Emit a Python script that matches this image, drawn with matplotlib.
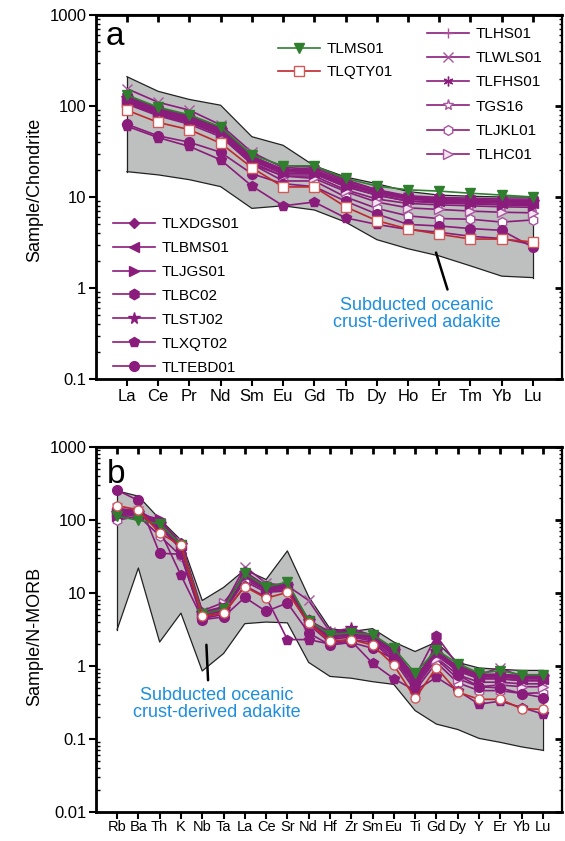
import matplotlib
matplotlib.use('Agg')
import matplotlib.pyplot as plt
from matplotlib.ticker import LogLocator, FuncFormatter, NullFormatter

plt.rcParams['font.family'] = ['Liberation Sans', 'DejaVu Sans']

# ---------------- data ----------------
ree_elements = ['La', 'Ce', 'Pr', 'Nd', 'Sm', 'Eu', 'Gd', 'Tb', 'Dy', 'Ho', 'Er', 'Tm', 'Yb', 'Lu']
trace_elements = ['Rb', 'Ba', 'Th', 'K', 'Nb', 'Ta', 'La', 'Ce', 'Sr', 'Nd', 'Hf', 'Zr',
                  'Sm', 'Eu', 'Ti', 'Gd', 'Dy', 'Y', 'Er', 'Yb', 'Lu']

sample_names = ['TLMS01', 'TLQTY01', 'TLHS01', 'TLWLS01', 'TLFHS01', 'TGS16', 'TLJKL01', 'TLHC01',
                'TLXDGS01', 'TLBMS01', 'TLJGS01', 'TLBC02', 'TLSTJ02', 'TLXQT02', 'TLTEBD01']

# adakite field (chondrite normalised)
field_a_upper = [210, 145, 118, 102, 46, 37, 22, 16.6, 14, 11.5, 10.5, 10.2, 10.0, 10.0]
field_a_lower = [19, 17.5, 15.5, 13, 7.5, 8.0, 7.2, 5.3, 3.4, 2.7, 2.25, 1.75, 1.35, 1.3]
# adakite field (N-MORB normalised)
field_b_upper = [251, 212, 103, 53, 7.9, 11.9, 20.8, 15.3, 37.7, 8.9, 3.25, 2.97, 3.25, 2.13, 1.58, 2.13,
                 1.12, 0.94, 0.9, 0.87, 0.87]
field_b_lower = [3.14, 22, 2.13, 5.3, 0.855, 1.48, 3.8, 4.0, 3.9, 1.12, 0.72, 0.68, 0.61, 0.56, 0.245, 0.16,
                 0.135, 0.102, 0.09, 0.078, 0.07]

# REE, chondrite normalised
ree_TLMS01 = [132, 97, 80, 59, 29, 22, 22, 16, 13.2, 12, 11.6, 11, 10.5, 10.0]
ree_TLQTY01 = [90, 66, 55, 39, 21, 12.9, 12.9, 7.8, 5.5, 4.45, 3.9, 3.45, 3.45, 3.2]
ree_TLHS01 = [120, 88, 72, 54, 27, 19, 19, 14, 11, 9.5, 9.2, 9.0, 8.8, 8.7]
ree_TLWLS01 = [155, 110, 90, 62, 31, 21, 22, 15.5, 12, 10, 9.5, 9.3, 9.0, 8.8]
ree_TLFHS01 = [115, 85, 70, 52, 26, 18, 18, 13, 10.5, 9.0, 8.8, 8.5, 8.3, 8.2]
ree_TGS16 = [108, 80, 66, 49, 24, 17, 17, 12, 9.5, 8.5, 8.2, 8.0, 7.8, 7.7]
ree_TLJKL01 = [105, 78, 63, 46, 23, 15, 15, 10, 7.5, 6.2, 5.8, 5.7, 5.3, 5.6]
ree_TLHC01 = [110, 80, 66, 48, 23, 17, 16, 11.5, 8.8, 7.6, 7.3, 7.0, 6.8, 6.7]
ree_TLXDGS01 = [125, 92, 76, 56, 28, 20, 20, 14.5, 11.5, 10, 9.6, 9.4, 9.2, 9.2]
ree_TLBMS01 = [118, 86, 71, 52, 26, 19, 18.5, 13.5, 11, 9.5, 9.0, 8.8, 8.6, 8.5]
ree_TLJGS01 = [112, 83, 68, 50, 25, 18, 18, 13, 10.5, 9.0, 8.6, 8.4, 8.2, 8.0]
ree_TLBC02 = [128, 95, 78, 57, 28, 20, 21, 15, 12, 10.3, 9.9, 9.7, 9.5, 9.5]
ree_TLSTJ02 = [122, 90, 74, 55, 27, 19.5, 19.5, 14, 11.5, 9.8, 9.3, 9.1, 8.9, 8.9]
ree_TLXQT02 = [60, 45, 36, 25.6, 13.2, 8.0, 8.8, 5.9, 5.0, 4.4, 4.1, 3.7, 3.5, 3.0]
ree_TLTEBD01 = [63, 47, 40, 31, 18, 14, 13, 9.0, 6.5, 5.0, 4.8, 4.5, 4.3, 2.8]

# trace elements, N-MORB normalised
tr_TLMS01 = [113, 99, 89, 46, 5.1, 6.1, 18.5, 12.1, 14.1, 4.2, 2.7, 2.85, 2.7, 1.75, 0.8, 1.66, 1.08, 0.8, 0.86, 0.76, 0.76]
tr_TLQTY01 = [157, 138, 66, 45, 4.8, 5.3, 12.2, 8.5, 10.2, 3.9, 2.2, 2.3, 1.93, 1.03, 0.36, 0.95, 0.44, 0.35, 0.35, 0.26, 0.255]
tr_TLHS01 = [124, 129, 86, 44, 5.3, 6.3, 17.5, 11.6, 12.1, 4.1, 2.6, 2.75, 2.5, 1.58, 0.67, 1.49, 0.9, 0.71, 0.71, 0.67, 0.67]
tr_TLWLS01 = [144, 134, 91, 45, 5.5, 6.5, 23, 13.6, 12.6, 7.9, 2.95, 3.0, 2.7, 1.66, 0.63, 1.58, 0.95, 0.76, 0.95, 0.71, 0.71]
tr_TLFHS01 = [118, 124, 83, 42, 5.0, 6.0, 16.5, 11.1, 11.6, 4.0, 2.5, 2.7, 2.4, 1.49, 0.59, 1.4, 0.86, 0.67, 0.67, 0.63, 0.63]
tr_TGS16 = [108, 118, 79, 40, 4.9, 5.7, 15.5, 10.7, 11.1, 3.9, 2.4, 2.6, 2.3, 1.4, 0.55, 1.3, 0.76, 0.6, 0.6, 0.57, 0.57]
tr_TLJKL01 = [99, 113, 61, 32, 4.55, 5.5, 14.5, 10.2, 10.7, 3.7, 2.1, 2.3, 2.1, 1.2, 0.46, 1.12, 0.59, 0.46, 0.46, 0.42, 0.43]
tr_TLHC01 = [129, 124, 96, 50, 5.7, 7.4, 16.5, 11.6, 11.6, 3.8, 2.3, 2.5, 2.2, 1.3, 0.5, 1.25, 0.67, 0.52, 0.55, 0.52, 0.52]
tr_TLXDGS01 = [139, 132, 93, 48, 5.4, 6.3, 19.5, 12.6, 12.6, 4.2, 2.75, 2.95, 2.6, 1.66, 0.71, 1.62, 0.99, 0.76, 0.76, 0.71, 0.71]
tr_TLBMS01 = [122, 122, 87, 45, 5.2, 6.0, 18, 11.8, 12.1, 4.1, 2.7, 2.75, 2.5, 1.58, 0.67, 1.53, 0.9, 0.71, 0.71, 0.67, 0.67]
tr_TLJGS01 = [115, 120, 103, 44, 5.1, 6.4, 17, 11.4, 11.6, 4.0, 2.6, 2.7, 2.4, 1.49, 0.6, 1.44, 0.86, 0.67, 0.67, 0.63, 0.63]
tr_TLBC02 = [132, 128, 91, 47, 5.4, 6.2, 19, 12.4, 12.6, 4.3, 2.75, 2.95, 2.6, 1.66, 0.71, 2.6, 1.03, 0.77, 0.77, 0.74, 0.74]
tr_TLSTJ02 = [126, 126, 88, 46, 5.3, 6.1, 18.5, 12.1, 12.4, 4.2, 2.95, 3.3, 2.6, 1.62, 0.69, 1.58, 0.95, 0.74, 0.74, 0.7, 0.7]
tr_TLXQT02 = [134, 124, 73, 17.5, 4.45, 5.1, 12.6, 8.8, 2.3, 2.3, 2.0, 2.2, 1.09, 0.67, 0.46, 0.7, 0.46, 0.3, 0.33, 0.27, 0.22]
tr_TLTEBD01 = [257, 185, 35, 34, 4.3, 4.7, 8.7, 5.6, 7.3, 2.85, 1.93, 2.1, 1.75, 1.25, 0.59, 1.93, 0.76, 0.52, 0.5, 0.42, 0.37]

ree_data = [ree_TLMS01, ree_TLQTY01, ree_TLHS01, ree_TLWLS01, ree_TLFHS01, ree_TGS16, ree_TLJKL01,
            ree_TLHC01, ree_TLXDGS01, ree_TLBMS01, ree_TLJGS01, ree_TLBC02, ree_TLSTJ02, ree_TLXQT02,
            ree_TLTEBD01]
tr_data = [tr_TLMS01, tr_TLQTY01, tr_TLHS01, tr_TLWLS01, tr_TLFHS01, tr_TGS16, tr_TLJKL01,
           tr_TLHC01, tr_TLXDGS01, tr_TLBMS01, tr_TLJGS01, tr_TLBC02, tr_TLSTJ02, tr_TLXQT02,
           tr_TLTEBD01]

# ---------------- styles ----------------
PURPLE = '#8A1C7C'
LPURPLE = '#A8559E'
GREEN = '#2F7F2F'
RED = '#C0282C'
LRED = '#D05A5A'
FIELD = '#BEBFBF'
BLUE = '#1E8FDC'
AST = (6, 2, 0)

# name: (line colour, marker, marker face, marker edge, size)
styles = {
    'TLMS01': (GREEN, 'v', GREEN, GREEN, 6.5),
    'TLQTY01': (RED, 's', 'white', LRED, 6.5),
    'TLHS01': (PURPLE, '+', PURPLE, LPURPLE, 7),
    'TLWLS01': (PURPLE, 'x', LPURPLE, LPURPLE, 6.5),
    'TLFHS01': (PURPLE, AST, PURPLE, PURPLE, 7),
    'TGS16': (PURPLE, '*', 'white', LPURPLE, 8),
    'TLJKL01': (PURPLE, 'h', 'white', LPURPLE, 7),
    'TLHC01': (PURPLE, '>', '#F4E4F2', LPURPLE, 7),
    'TLXDGS01': (PURPLE, 'D', PURPLE, PURPLE, 5.5),
    'TLBMS01': (PURPLE, '<', PURPLE, PURPLE, 7),
    'TLJGS01': (PURPLE, '>', PURPLE, PURPLE, 7),
    'TLBC02': (PURPLE, 'h', PURPLE, PURPLE, 7.5),
    'TLSTJ02': (PURPLE, '*', PURPLE, PURPLE, 8.5),
    'TLXQT02': (PURPLE, 'p', PURPLE, PURPLE, 7.5),
    'TLTEBD01': (PURPLE, 'o', PURPLE, PURPLE, 7),
}
draw_order = [2, 3, 4, 5, 6, 7, 8, 9, 10, 11, 12, 13, 14, 0, 1]

W, H = 565, 841
fig = plt.figure(figsize=(W / 100, H / 100), dpi=100)


def px_axes(left, top, right, bottom):
    return fig.add_axes([left / W, 1 - bottom / H, (right - left) / W, (bottom - top) / H])


ax_a = px_axes(96, 15, 562, 379)
ax_b = px_axes(96, 447, 562, 812)

fmt = FuncFormatter(lambda v, p: ('%g' % v))


def style_axes(ax, labels, ymin, ymax, xfs, xlim, xpad):
    n = len(labels)
    ax.set_yscale('log')
    ax.set_ylim(ymin, ymax)
    ax.set_xlim(*xlim)
    ax.set_xticks(range(n))
    ax.set_xticklabels(labels, fontsize=xfs)
    ax.yaxis.set_major_locator(LogLocator(base=10, numticks=10))
    ax.yaxis.set_minor_locator(LogLocator(base=10, subs=range(2, 10), numticks=20))
    ax.yaxis.set_major_formatter(fmt)
    ax.yaxis.set_minor_formatter(NullFormatter())
    ax.tick_params(axis='y', which='major', direction='out', length=5, width=1.5,
                   labelsize=12, pad=2, right=False)
    ax.tick_params(axis='y', which='minor', direction='in', length=3, width=1, right=False)
    ax.tick_params(axis='x', which='major', direction='out', length=5, width=1.5,
                   pad=xpad, top=False)
    for s in ['left', 'bottom']:
        ax.spines[s].set_linewidth(2)
    for s in ['top', 'right']:
        ax.spines[s].set_linewidth(1.5)
    # right ticks (inward)
    axr = ax.twinx()
    axr.set_yscale('log')
    axr.set_ylim(ymin, ymax)
    axr.yaxis.set_major_locator(LogLocator(base=10, numticks=10))
    axr.yaxis.set_minor_locator(LogLocator(base=10, subs=range(2, 10), numticks=20))
    axr.tick_params(axis='y', which='major', direction='in', length=5, width=2, labelright=False)
    axr.tick_params(axis='y', which='minor', direction='in', length=2.5, width=1, labelright=False)
    axr.spines['right'].set_linewidth(1.5)
    # top ticks (inward)
    axt = ax.twiny()
    axt.set_xlim(ax.get_xlim())
    axt.set_xticks(range(n))
    axt.tick_params(axis='x', direction='in', length=5, width=2, labeltop=False)
    axt.spines['top'].set_linewidth(2)
    axr.set_zorder(0)
    axt.set_zorder(0)
    ax.set_zorder(1)
    ax.patch.set_visible(False)


def draw_panel(ax, elements, f_up, f_lo, data, bmode=False):
    x = list(range(len(elements)))
    ax.fill_between(x, f_lo, f_up, facecolor=FIELD, edgecolor='none', zorder=1)
    ax.plot(x, f_up, color='#222222', lw=0.9, zorder=1.5)
    ax.plot(x, f_lo, color='#222222', lw=0.9, zorder=1.5)
    ax.plot([x[0], x[0]], [f_lo[0], f_up[0]], color='#222222', lw=0.9, zorder=1.5)
    ax.plot([x[-1], x[-1]], [f_lo[-1], f_up[-1]], color='#222222', lw=0.9, zorder=1.5)
    handles = {}
    for z, i in enumerate(draw_order):
        name = sample_names[i]
        lc, mk, mf, me, ms = styles[name]
        if bmode and name == 'TLQTY01':
            mk = 'o'
        h, = ax.plot(x, data[i], color=lc, lw=1.2, marker=mk, markersize=ms,
                     markerfacecolor=mf, markeredgecolor=me, markeredgewidth=1.0,
                     zorder=3 + z * 0.01, label=name)
        handles[name] = h
    return handles


style_axes(ax_a, ree_elements, 0.1, 1000, 12, (-0.99, 13.93), 2)
style_axes(ax_b, trace_elements, 0.01, 1000, 10.5, (-0.99, 20.9), 1)

ha = draw_panel(ax_a, ree_elements, field_a_upper, field_a_lower, ree_data)
draw_panel(ax_b, trace_elements, field_b_upper, field_b_lower, tr_data, bmode=True)

# panel letters
ax_a.text(0.021, 0.918, 'a', transform=ax_a.transAxes, fontsize=24, va='baseline', ha='left')
ax_b.text(0.024, 0.901, 'b', transform=ax_b.transAxes, fontsize=24, va='baseline', ha='left')

# y labels
fig.text(35 / W, 1 - 190 / H, 'Sample/Chondrite', rotation=90, ha='center', va='center', fontsize=13)
fig.text(35 / W, 1 - 636 / H, 'Sample/N-MORB', rotation=90, ha='center', va='center', fontsize=13)

# legends
leg_kw = dict(loc='upper left', frameon=False, fontsize=11, handlelength=2.75,
              handletextpad=0.45, borderpad=0, borderaxespad=0, numpoints=1)
g1 = ['TLMS01', 'TLQTY01']
g2 = ['TLHS01', 'TLWLS01', 'TLFHS01', 'TGS16', 'TLJKL01', 'TLHC01']
g3 = ['TLXDGS01', 'TLBMS01', 'TLJGS01', 'TLBC02', 'TLSTJ02', 'TLXQT02', 'TLTEBD01']
l1 = ax_a.legend([ha[n] for n in g1], g1, bbox_to_anchor=(0.3906, 0.926), labelspacing=0.62, **leg_kw)
ax_a.add_artist(l1)
l2 = ax_a.legend([ha[n] for n in g2], g2, bbox_to_anchor=(0.710, 0.967), labelspacing=0.67, **leg_kw)
ax_a.add_artist(l2)
l3 = ax_a.legend([ha[n] for n in g3], g3, bbox_to_anchor=(0.0365, 0.445), labelspacing=0.65, **leg_kw)

# annotations
ax_a.annotate('', xy=(10.29, 0.90), xytext=(9.87, 2.62),
              arrowprops=dict(arrowstyle='-', color='black', lw=1.8), zorder=4)
ax_a.text(9.27, 0.52, 'Subducted oceanic\ncrust-derived adakite', color=BLUE, fontsize=13,
          ha='center', va='center', linespacing=1.05, zorder=5)
ax_b.annotate('', xy=(4.28, 0.585), xytext=(4.19, 2.13),
              arrowprops=dict(arrowstyle='-', color='black', lw=1.8), zorder=4)
ax_b.text(4.7, 0.30, 'Subducted oceanic\ncrust-derived adakite', color=BLUE, fontsize=13,
          ha='center', va='center', linespacing=1.05, zorder=5)

fig.savefig('out.png', dpi=100)
